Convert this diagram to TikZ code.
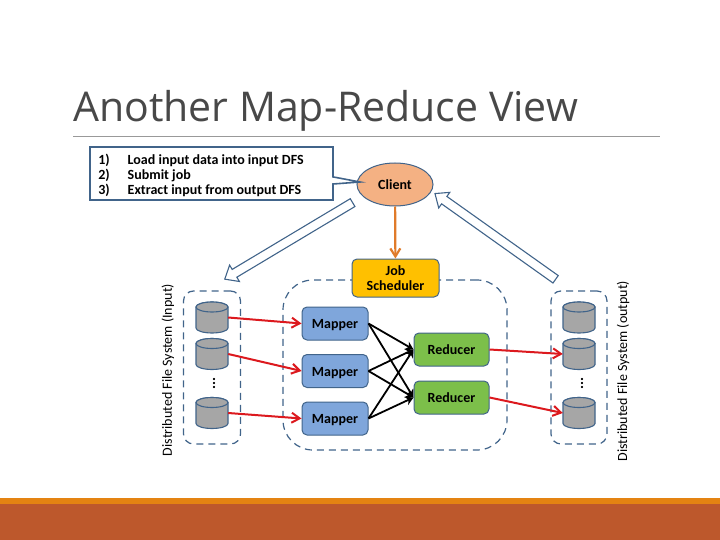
\documentclass[tikz,border=0pt]{standalone}
\usepackage{fontspec}
\setmainfont{Carlito}
\newfontfamily\titlefont{Open Sans}
\usetikzlibrary{arrows.meta,shapes.geometric,shapes.arrows,shapes.callouts}
\definecolor{edgeblue}{HTML}{41648A}
\definecolor{titlegray}{HTML}{484848}
\definecolor{clientfill}{HTML}{F4B183}
\definecolor{jobfill}{HTML}{FFC000}
\definecolor{mapfill}{HTML}{7FA6DB}
\definecolor{redfill}{HTML}{7CBF4A}
\definecolor{diskfill}{HTML}{A6A6A6}
\definecolor{bandfill}{HTML}{E48312}
\definecolor{footfill}{HTML}{BD582C}
\definecolor{jobline}{HTML}{E07B2A}
\definecolor{flowred}{HTML}{DC191E}
\tikzset{
    boxed/.style={draw=edgeblue,line width=1pt,rounded corners=5pt,inner sep=0pt,font=\bfseries\fontsize{14}{15}\selectfont,align=center},
    mapbox/.style={boxed,fill=mapfill,minimum width=66pt,minimum height=33pt,text height=10.6pt,text depth=0pt},
    redbox/.style={boxed,fill=redfill,minimum width=75pt,minimum height=33pt,text height=10.6pt,text depth=0pt},
    frame/.style={draw=edgeblue,line width=1.2pt,dash pattern=on 7pt off 5pt,inner sep=0pt},
    diskspot/.style={inner sep=0pt,minimum width=32pt,minimum height=31pt},
    diskline/.style={draw=edgeblue,line width=1.1pt,fill=diskfill},
    hollow/.style={single arrow,draw=edgeblue,line width=1.1pt,fill=white,inner sep=4pt,single arrow head extend=5pt,single arrow tip angle=80},
    sidelabel/.style={rotate=90,font=\fontsize{14}{16}\selectfont},
    dots/.style={rotate=90,font=\bfseries\fontsize{15}{15}\selectfont},
    redline/.style={draw=flowred,line width=2pt,-{Straight Barb[length=8pt,width=10pt]}},
    blackline/.style={draw=black,line width=1.8pt,-{Stealth[length=8pt,width=9pt]}}
}
\newcommand{\diskat}[3]{%
    \node[diskspot] (#1) at (#2,#3) {};
    \begin{scope}[shift={(#2,#3)}]
        \path[diskline] (-16,-10.5) -- (-16,10.5) arc[start angle=180,end angle=360,x radius=16pt,y radius=5pt] -- (16,-10.5) arc[start angle=0,end angle=180,x radius=16pt,y radius=5pt] -- cycle;
        \path[diskline] (0,-10.5) ellipse[x radius=16pt,y radius=5pt];
    \end{scope}
}
\begin{document}
\begin{tikzpicture}[x=1pt,y=-1pt]
    \useasboundingbox (0,0) rectangle (720,540);
    % footer
    \fill[footfill] (0,504) rectangle (720,540);
    \fill[bandfill] (0,498) rectangle (720,504);
    % title
    \node[anchor=base west,inner sep=0pt,text=titlegray,font=\titlefont\fontsize{41}{46}\selectfont] (title) at (73,122) {Another Map-Reduce View};
    \coordinate (ruleleft) at (73,136.5);
    \coordinate (ruleright) at (660,136.5);
    \draw[draw=gray!80,line width=.8pt] (ruleleft) -- (ruleright);
    % frames
    \node[frame,rounded corners=10pt,minimum width=57pt,minimum height=153pt] (inframe) at (212,367.5) {};
    \node[frame,rounded corners=10pt,minimum width=56pt,minimum height=153pt] (outframe) at (579,367.5) {};
    \node[frame,rounded corners=30pt,minimum width=224pt,minimum height=170pt] (midframe) at (395,365) {};
    % client side
    \node[ellipse,draw=edgeblue,line width=1pt,fill=clientfill,minimum width=76pt,minimum height=43pt,inner sep=0pt,font=\bfseries\fontsize{14}{15}\selectfont] (client) at (395,184.5) {Client};
    \node[boxed,fill=jobfill,minimum width=87pt,minimum height=38pt] (job) at (395.5,278) {Job\\Scheduler};
    \node[rectangle callout,draw=edgeblue,line width=1.6pt,fill=white,minimum width=243pt,minimum height=53pt,inner sep=0pt,callout absolute pointer={(360,182)},font=\bfseries\fontsize{14}{15}\selectfont] (steps) at (211.5,173.5) {%
        \begin{tabular}{@{}l@{\hspace{18pt}}p{197pt}@{}}
        \noalign{\vskip6pt}
        1) & Load input data into input DFS\\
        2) & Submit job\\
        3) & Extract input from output DFS
        \end{tabular}};
    \draw[draw=jobline,line width=2.2pt,-{Straight Barb[length=8pt,width=10pt]}] (client) -- (job);
    \node[hollow,minimum height=149pt,minimum width=18pt,rotate=210.9] (inarrow) at (291,239.5) {};
    \node[hollow,minimum height=148pt,minimum width=18pt,rotate=144.6] (outarrow) at (497.5,238) {};
    % input disks
    \diskat{in1}{212}{317.5}
    \diskat{in2}{212}{354}
    \diskat{in3}{212}{413}
    \diskat{out1}{579}{317.5}
    \diskat{out2}{579}{354}
    \diskat{out3}{579}{413}
    \node[dots] (indots) at (214,383) {...};
    \node[dots] (outdots) at (582,383) {...};
    \node[sidelabel] (inlabel) at (168,370) {Distributed File System (Input)};
    \node[sidelabel] (outlabel) at (623,371) {Distributed File System (output)};
    % tasks
    \node[mapbox] (map1) at (335,323.5) {Mapper};
    \node[mapbox] (map2) at (335,371) {Mapper};
    \node[mapbox] (map3) at (335,418.5) {Mapper};
    \node[redbox] (red1) at (451.5,349.5) {Reducer};
    \node[redbox] (red2) at (451.5,397.5) {Reducer};
    \foreach \m in {map1,map2,map3}
        \foreach \r in {red1,red2}
            \draw[blackline] (\m.east) -- (\r.west);
    \draw[redline] (in1.east) -- (map1.west);
    \draw[redline] (in2.east) -- (map2.west);
    \draw[redline] (in3.east) -- (map3.west);
    \draw[redline] (red1.east) -- (out2.west);
    \draw[redline] (red2.east) -- (out3.west);
\end{tikzpicture}
\end{document}
